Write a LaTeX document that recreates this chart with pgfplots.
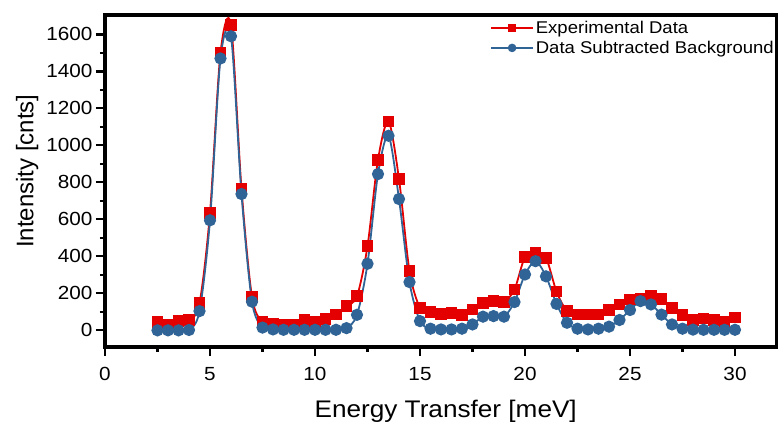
\documentclass[border=0pt]{standalone}
\usepackage{fontspec}
\setmainfont{Liberation Sans}[FakeStretch=1.09]
\newfontfamily\ylabfont{Liberation Sans}
\usepackage{pgfplots}
\pgfplotsset{compat=1.18}
\definecolor{expred}{RGB}{228,0,0}
\definecolor{subblue}{RGB}{48,100,150}

\begin{document}
\begin{tikzpicture}
\begin{axis}[
  scale only axis, width=672pt, height=332pt,
  xmin=0, xmax=32, ymin=-90, ymax=1705,
  xtick={0,5,...,30}, ytick={0,200,...,1600},
  minor x tick num=1, minor y tick num=1,
  tick pos=left, tick align=outside,
  major tick length=9pt, minor tick length=5pt,
  every tick/.style={black, line width=2.2pt},
  axis line style={black, line width=3.2pt},
  every tick label/.append style={font=\fontsize{19}{22}\selectfont},
  xticklabel style={yshift=-8pt},
  /pgf/number format/.cd, 1000 sep={}, assume math mode=true, /pgfplots/.cd,
  xlabel={Energy Transfer [meV]},
  ylabel={\ylabfont Intensity [cnts]},
  xlabel style={font=\fontsize{24}{28}\selectfont, at={(axis description cs:0.507,-0.193)}, anchor=center},
  ylabel style={font=\fontsize{24}{28}\selectfont, at={(axis description cs:-0.116,0.53)}, anchor=center},
  legend style={draw=none, fill=none, at={(1,1)}, anchor=north east,
    font=\fontsize{17}{20}\selectfont, row sep=2pt, inner xsep=1pt, inner ysep=4pt},
  legend cell align=left,
  legend image code/.code={
    \draw[mark repeat=2, mark phase=2, #1, mark size=3.5pt, line width=1.5pt]
      plot coordinates {(0pt,0pt) (21pt,0pt) (42pt,0pt)};},
]
\addplot[color=expred, line width=1.8pt, smooth, mark=square*, mark size=5pt]
  coordinates {
    (2.5,45) (3.0,27) (3.5,49) (4.0,55) (4.5,146) (5.0,635) (5.5,1500)
    (6.0,1650) (6.5,764) (7.0,180) (7.5,45) (8.0,36) (8.5,27) (9.0,32)
    (9.5,54) (10.0,47) (10.5,63) (11.0,86) (11.5,131) (12.0,185)
    (12.5,455) (13.0,922) (13.5,1129) (14.0,818) (14.5,320) (15.0,122)
    (15.5,101) (16.0,90) (16.5,95) (17.0,81) (17.5,113) (18.0,149)
    (18.5,158) (19.0,153) (19.5,221) (20.0,397) (20.5,419) (21.0,392)
    (21.5,210) (22.0,104) (22.5,86) (23.0,86) (23.5,86) (24.0,108)
    (24.5,140) (25.0,167) (25.5,169) (26.0,185) (26.5,169) (27.0,120)
    (27.5,83) (28.0,56) (28.5,64) (29.0,56) (29.5,47) (30.0,70)
  };
\addlegendentry{Experimental Data}
\addplot[color=subblue, line width=1.8pt, smooth, mark=*, mark size=5.2pt]
  coordinates {
    (2.5,0) (3.0,0) (3.5,0) (4.0,2) (4.5,104) (5.0,595) (5.5,1470)
    (6.0,1590) (6.5,737) (7.0,155) (7.5,15) (8.0,5) (8.5,3) (9.0,3)
    (9.5,3) (10.0,3) (10.5,3) (11.0,3) (11.5,12) (12.0,84)
    (12.5,360) (13.0,845) (13.5,1052) (14.0,710) (14.5,261) (15.0,50)
    (15.5,9) (16.0,5) (16.5,5) (17.0,9) (17.5,32) (18.0,74)
    (18.5,77) (19.0,74) (19.5,153) (20.0,302) (20.5,374) (21.0,292)
    (21.5,143) (22.0,41) (22.5,9) (23.0,5) (23.5,9) (24.0,20)
    (24.5,56) (25.0,110) (25.5,158) (26.0,140) (26.5,85) (27.0,32)
    (27.5,9) (28.0,4) (28.5,3) (29.0,3) (29.5,3) (30.0,3)
  };
\addlegendentry{Data Subtracted Background}
\end{axis}
\pgfresetboundingbox
\path (current axis.south west) ++(-105pt,-83pt) rectangle ++(778pt,430pt);
\end{tikzpicture}
\end{document}
